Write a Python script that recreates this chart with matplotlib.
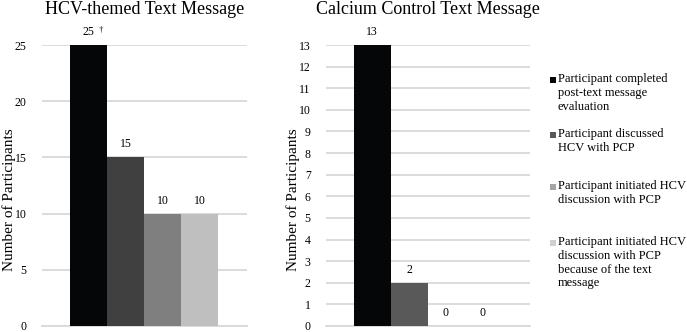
import matplotlib.pyplot as plt
import matplotlib
from matplotlib.patches import Rectangle

matplotlib.rcParams['font.family'] = ['Liberation Serif', 'DejaVu Serif']

# dados
categorias = [
    'Participant completed\npost-text message\nevaluation',
    'Participant discussed\nHCV with PCP',
    'Participant initiated HCV\ndiscussion with PCP',
    'Participant initiated HCV\ndiscussion with PCP\nbecause of the text\nmessage',
]
hcv_valores = [25, 15, 10, 10]
calcio_valores = [13, 2, 0, 0]
hcv_cores = ['#050607', '#404040', '#7f7f7f', '#bfbfbf']
calcio_cores = ['#050607', '#595959', '#a6a6a6', '#d0d0d0']

fig = plt.figure(figsize=(6.87, 3.32), dpi=100)
W, H = 687, 332

def eixo(x0, x1, y0, y1):
    return fig.add_axes([x0 / W, 1 - y1 / H, (x1 - x0) / W, (y1 - y0) / H])

def painel(ax, valores, cores, titulo, ymax, passo, pad):
    pos = range(len(valores))
    barras = ax.bar(pos, valores, width=1.0, color=cores, zorder=3)
    ax.set_xlim(-1.257, 4.283)
    ax.set_ylim(0, ymax)
    ax.set_yticks(range(0, ymax + 1, passo))
    ax.yaxis.grid(True, color='#d9d9d9', lw=1.3, zorder=0)
    ax.set_axisbelow(True)
    for s in ax.spines.values():
        s.set_visible(False)
    ax.set_xticks([])
    ax.tick_params(axis='y', length=0, labelsize=8.5, pad=pad)
    ax.set_ylabel('Number of Participants', fontsize=11)
    ax.yaxis.set_label_coords(-0.127, 0.448)
    ax.set_title(titulo, fontsize=13, pad=22)
    ax.axhline(0, color='#d9d9d9', lw=1.3, zorder=1, clip_on=False)
    return barras

ax1 = eixo(42, 247, 45, 326)
b1 = painel(ax1, hcv_valores, hcv_cores, 'HCV-themed Text Message', 25, 5, 11)
ax1.bar_label(b1, labels=[str(v) for v in hcv_valores], padding=5, fontsize=8.5)
# adaga ao lado do rotulo da primeira barra
ax1.annotate('†', (0, hcv_valores[0]), xytext=(7, 8), textcoords='offset points',
             fontsize=6.5, ha='left', va='bottom')

ax2 = eixo(326, 530, 45, 326)
b2 = painel(ax2, calcio_valores, calcio_cores, 'Calcium Control Text Message', 13, 1, 11)
ax2.bar_label(b2, labels=[str(v) for v in calcio_valores], padding=5, fontsize=8.5)

# legenda montada a mao: quadrado alinhado a primeira linha
centros = [80, 135, 187, 243]
for cor, rotulo, yc in zip(calcio_cores, categorias, centros):
    fig.patches.append(Rectangle((550 / W, 1 - (yc + 3) / H), 6 / W, 6 / H,
                                 transform=fig.transFigure, fc=cor, ec='none'))
    fig.text(558 / W, 1 - (yc - 7) / H, rotulo, fontsize=9, va='top', ha='left',
             linespacing=1.2)

fig.savefig('out.png', dpi=100)
